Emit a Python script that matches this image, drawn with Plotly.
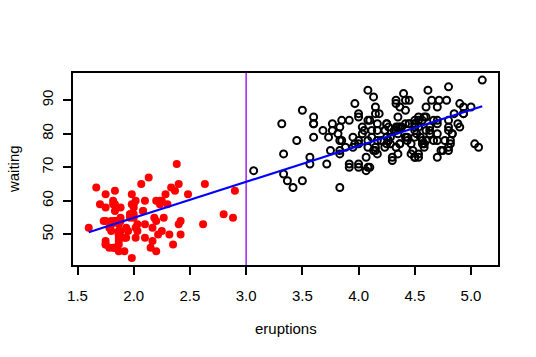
import numpy as np
import plotly.graph_objects as go

eruptions = [
3.600,1.800,3.333,2.283,4.533,2.883,4.700,3.600,1.950,4.350,
1.833,3.917,4.200,1.750,4.700,2.167,1.750,4.800,1.600,4.250,
1.800,1.750,3.450,3.067,4.533,3.600,1.967,4.083,3.850,4.433,
4.300,4.467,3.367,4.033,3.833,2.017,1.867,4.833,1.833,4.783,
4.350,1.883,4.567,1.750,4.533,3.317,3.833,2.100,4.633,2.000,
4.800,4.716,1.833,4.833,1.733,4.883,3.717,1.667,4.567,4.317,
2.233,4.500,1.750,4.800,1.817,4.400,4.167,4.700,2.067,4.700,
4.033,1.967,4.500,4.000,1.983,5.067,2.017,4.567,3.883,3.600,
4.133,4.333,4.100,2.633,4.067,4.933,3.950,4.517,2.167,4.000,
2.200,4.333,1.867,4.817,1.833,4.300,4.667,3.750,1.867,4.900,
2.483,4.367,2.100,4.500,4.050,1.867,4.700,1.783,4.850,3.683,
4.733,2.300,4.900,4.417,1.700,4.633,2.317,4.600,1.817,4.417,
2.617,4.067,4.250,1.967,4.600,3.767,1.917,4.500,2.267,4.650,
1.867,4.167,2.800,4.333,1.833,4.383,1.883,4.933,2.033,3.733,
4.233,2.233,4.533,4.817,4.333,1.983,4.633,2.017,5.100,1.800,
5.033,4.000,2.400,4.600,3.567,4.000,4.500,4.083,1.800,3.967,
2.200,4.150,2.000,3.833,3.500,4.583,2.367,5.000,1.933,4.617,
1.917,2.083,4.583,3.333,4.167,4.333,4.500,2.417,4.000,4.167,
1.883,4.583,4.250,3.767,2.033,4.433,4.083,1.833,4.417,2.183,
4.800,1.833,4.800,4.100,3.966,4.233,3.500,4.366,2.250,4.667,
2.100,4.350,4.133,1.867,4.600,1.783,4.367,3.850,1.933,4.500,
2.383,4.700,1.867,3.833,3.417,4.233,2.400,4.800,2.000,4.150,
1.867,4.267,1.750,4.483,4.000,4.117,4.083,4.267,3.917,4.550,
4.083,2.417,4.183,2.217,4.450,1.883,1.850,4.283,3.950,2.333,
4.150,2.350,4.933,2.900,4.583,3.833,2.083,4.367,2.133,4.350,
2.200,4.450,3.567,4.500,4.150,3.817,3.917,4.450,2.000,4.283,
4.767,4.533,1.850,4.250,1.983,2.250,4.750,4.117,2.150,4.417,
1.817,4.467]

waiting = [
79,54,74,62,85,55,88,85,51,85,
54,84,78,47,83,52,62,84,52,79,
51,47,78,69,74,83,55,76,78,79,
73,77,66,80,74,52,48,80,59,90,
80,58,84,58,73,83,64,53,82,59,
75,90,54,80,54,83,71,64,77,81,
59,84,48,82,60,92,78,78,65,73,
82,56,79,71,62,76,60,78,76,83,
75,82,70,65,73,88,76,80,48,86,
60,90,50,78,63,72,84,75,51,82,
62,88,49,83,81,47,84,52,86,81,
75,59,89,79,59,81,50,85,59,87,
53,69,77,56,88,81,45,82,55,90,
45,83,56,89,46,82,51,86,53,79,
81,60,82,77,76,59,80,49,96,53,
77,77,65,81,71,70,81,93,53,89,
45,86,58,78,66,76,63,88,52,93,
49,57,77,68,81,81,73,50,85,74,
55,77,83,83,51,78,84,46,83,55,
81,57,76,84,77,81,87,77,51,78,
60,82,91,53,78,46,77,84,49,83,
71,80,49,75,64,76,53,94,55,76,
50,82,54,75,78,79,78,78,70,79,
70,54,86,50,90,54,54,77,79,64,
75,47,86,63,85,82,57,82,67,74,
54,83,73,73,88,80,71,83,56,79,
78,84,58,83,43,60,75,81,46,90,
46,74]

if len(eruptions) != len(waiting):
    raise SystemExit(f"length mismatch {len(eruptions)} {len(waiting)}")

cutoff = 3.0
x_ticks = [1.5, 2.0, 2.5, 3.0, 3.5, 4.0, 4.5, 5.0]
y_ticks = [50, 60, 70, 80, 90]

x = np.array(eruptions)
y = np.array(waiting)
short = x < cutoff
slope, intercept = np.polyfit(x, y, 1)
xl = np.array([x.min(), x.max()])

fig = go.Figure()
fig.add_trace(go.Scatter(x=x[~short], y=y[~short], mode="markers",
                         marker=dict(symbol="circle-open", size=7, color="black",
                                     line=dict(width=2, color="black"))))
fig.add_trace(go.Scatter(x=x[short], y=y[short], mode="markers",
                         marker=dict(symbol="circle", size=8, color="#ff0000",
                                     line=dict(width=0))))
fig.add_trace(go.Scatter(x=[cutoff, cutoff], y=[40.88, 98.12], mode="lines",
                         line=dict(color="#a020f0", width=1.5)))
fig.add_trace(go.Scatter(x=xl, y=intercept + slope * xl, mode="lines",
                         line=dict(color="#0000ff", width=2.2)))

fnt = dict(family="Liberation Sans, Arial, sans-serif", size=15, color="black")
fig.update_layout(
    width=536, height=357, showlegend=False,
    margin=dict(l=73, r=38, t=73, b=92),
    paper_bgcolor="white", plot_bgcolor="white",
    font=fnt,
    xaxis=dict(range=[1.46, 5.24], tickvals=x_ticks, ticktext=[f"{v:.1f}" for v in x_ticks],
               showgrid=False, zeroline=False, showline=True, mirror=True,
               linecolor="black", linewidth=2, ticks="outside", ticklen=8,
               tickwidth=2, tickcolor="black", ticklabelstandoff=8, tickfont=fnt),
    yaxis=dict(range=[40.88, 98.12], tickvals=y_ticks, ticktext=[str(v) for v in y_ticks],
               showgrid=False, zeroline=False, showline=True, mirror=True,
               linecolor="black", linewidth=2, ticks="outside", ticklen=8,
               tickwidth=2, tickcolor="black", tickangle=-90, ticklabelstandoff=4,
               tickfont=fnt),
    annotations=[
        dict(text="eruptions", xref="paper", yref="paper", x=0.5, y=-0.333,
             xanchor="center", yanchor="middle", showarrow=False, font=fnt),
        dict(text="waiting", xref="paper", yref="paper", x=-0.141, y=0.5,
             xanchor="center", yanchor="middle", showarrow=False, textangle=-90, font=fnt),
    ],
)
fig.write_html("out.html", config={"displayModeBar": False},
               post_script="document.body.style.margin='0';")
